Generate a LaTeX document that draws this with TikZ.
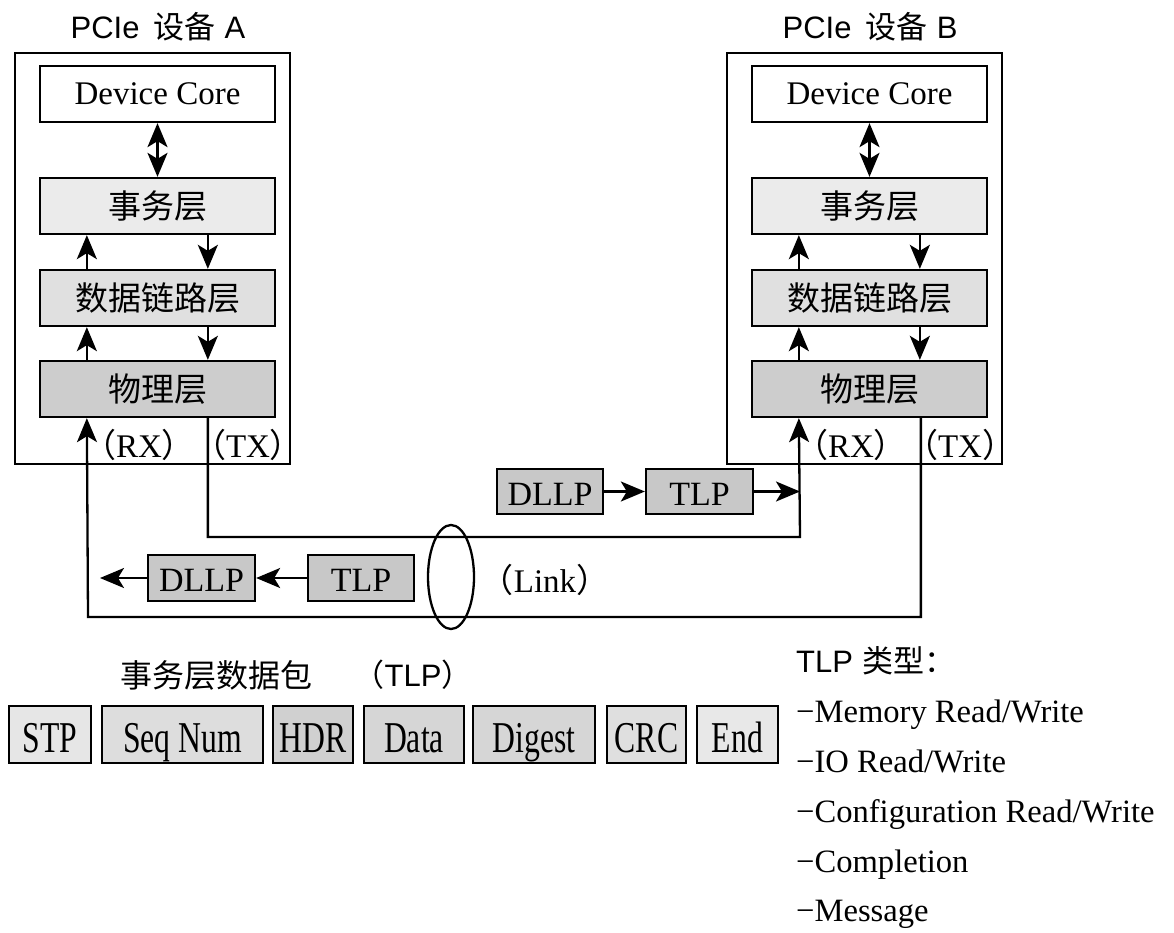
\documentclass[tikz,border=0pt]{standalone}
\usepackage{fontspec}
\setmainfont{Liberation Serif}
\newfontfamily\cjk{Noto Sans CJK SC}
\newfontfamily\hei{Liberation Sans}
\newfontfamily\narrowrm[FakeStretch=0.72]{Liberation Serif}
\usetikzlibrary{arrows.meta,shapes.geometric}
\newcommand\fs[1]{\fontsize{#1}{#1}\selectfont}
\definecolor{tlfill}{HTML}{EBEBEB}
\definecolor{dlfill}{HTML}{E0E0E0}
\definecolor{plfill}{HTML}{CDCDCD}
\definecolor{pktfill}{HTML}{C8C8C8}
\definecolor{stpfill}{HTML}{E6E6E6}
\definecolor{seqfill}{HTML}{DDDDDD}
\definecolor{hdrfill}{HTML}{D0D0D0}
\definecolor{datafill}{HTML}{D6D6D6}
\definecolor{crcfill}{HTML}{DFDFDF}
\definecolor{endfill}{HTML}{E8E8E8}
\begin{document}
\begin{tikzpicture}[x=1pt,y=-1pt,line width=2.3pt,
  >={Stealth[length=24pt,width=20pt,inset=6pt]},
  outerbox/.style={draw,line width=2pt,inner sep=0pt,minimum width=275pt,minimum height=411pt},
  layerbox/.style={draw,inner sep=0pt,minimum width=235pt,minimum height=56pt,font=\fs{33}},
  pkt/.style={draw,fill=pktfill,inner sep=0pt,minimum height=45pt,text height=27pt,text depth=0pt,font=\fs{34}},
  field/.style={draw,inner sep=0pt,minimum height=57pt,text height=36pt,text depth=0pt,font=\narrowrm\fs{44}},
  sanslabel/.style={inner sep=0pt,font=\hei\fs{31}},
  rxlabel/.style={inner sep=0pt,font=\fs{33}},
  listitem/.style={anchor=base west,inner sep=0pt,font=\fs{32.6}}]
\useasboundingbox (0,0) rectangle (1174,933);

\foreach \d/\o in {A/0,B/712}{
  \node[outerbox] (dev\d) at (152.5+\o,258.5) {};
  \node[sanslabel,font=\hei\fs{31}] (title\d) at (158+\o,27) {PCIe\hspace{0.45em}{\cjk 设备}\hspace{0.3em}\d};
  \node[layerbox] (core\d) at (157.5+\o,94) {Device Core};
  \node[layerbox,fill=tlfill] (tl\d) at (157.5+\o,206) {\cjk 事务层};
  \node[layerbox,fill=dlfill] (dl\d) at (157.5+\o,298) {\cjk 数据链路层};
  \node[layerbox,fill=plfill] (pl\d) at (157.5+\o,389) {\cjk 物理层};
  \draw[<->] (core\d.south) -- (tl\d.north);
  \draw[->] ([xshift=48pt]dl\d.north west) -- ([xshift=48pt]tl\d.south west);
  \draw[->] ([xshift=169pt]tl\d.south west) -- ([xshift=169pt]dl\d.north west);
  \draw[->] ([xshift=48pt]pl\d.north west) -- ([xshift=48pt]dl\d.south west);
  \draw[->] ([xshift=169pt]dl\d.south west) -- ([xshift=169pt]pl\d.north west);
  \node[rxlabel] (rx\d) at (139+\o,445) {{\cjk （}RX{\cjk ）}};
  \node[rxlabel] (tx\d) at (248+\o,445) {{\cjk （}TX{\cjk ）}};
}

% link wiring
\coordinate (turnB) at (800,537);
\coordinate (turnA) at (88,617);
\draw[->] ([xshift=169pt]plA.south west) |- (turnB) -- ([xshift=48pt]plB.south west);
\draw[->] ([xshift=170pt]plB.south west) |- (turnA) -- ([xshift=48pt]plA.south west);

% packets on the wire
\node[pkt,minimum width=106pt] (dllpB) at (550,491.5) {DLLP};
\node[pkt,minimum width=107pt] (tlpB) at (699.5,491.5) {TLP};
\coordinate (inB) at (800,491.5);
\draw[->] (dllpB) -- (tlpB);
\draw[->] (tlpB) -- (inB);

\node[pkt,minimum width=106pt,minimum height=46pt] (tlpA) at (361,578) {TLP};
\node[pkt,minimum width=107pt,minimum height=46pt] (dllpA) at (201.5,578) {DLLP};
\coordinate (outA) at (100,578);
\draw[->] (tlpA) -- (dllpA);
\draw[->] (dllpA) -- (outA);

\node[draw,ellipse,inner sep=0pt,minimum width=46pt,minimum height=104pt] (link) at (451,577) {};
\node[rxlabel] (linklabel) at (545,580) {{\cjk （}Link{\cjk ）}};

% TLP format
\node[inner sep=0pt,font=\cjk\fs{32}] (fmt) at (216,675) {事务层数据包};
\node[sanslabel] (fmttlp) at (413,675) {{\cjk （}TLP{\cjk ）}};
\node[field,fill=stpfill,minimum width=82pt] (stp) at (50,734.5) {STP};
\node[field,fill=seqfill,minimum width=161pt] (seq) at (182.5,734.5) {Seq Num};
\node[field,fill=hdrfill,minimum width=80pt] (hdr) at (313,734.5) {HDR};
\node[field,fill=datafill,minimum width=100pt] (data) at (414,734.5) {Data};
\node[field,fill=datafill,minimum width=122pt] (digest) at (534,734.5) {Digest};
\node[field,fill=crcfill,minimum width=79pt] (crc) at (646.5,734.5) {CRC};
\node[field,fill=endfill,minimum width=81pt] (end) at (737.5,734.5) {End};

% TLP types
\node[sanslabel,anchor=west] (types) at (795,661) {TLP\hspace{0.3em}{\cjk 类型：}};
\node[listitem] (t1) at (795,722) {−Memory Read/Write};
\node[listitem] (t2) at (795,772) {−IO Read/Write};
\node[listitem] (t3) at (795,822) {−Configuration Read/Write};
\node[listitem] (t4) at (795,872) {−Completion};
\node[listitem] (t5) at (795,921) {−Message};
\end{tikzpicture}
\end{document}
